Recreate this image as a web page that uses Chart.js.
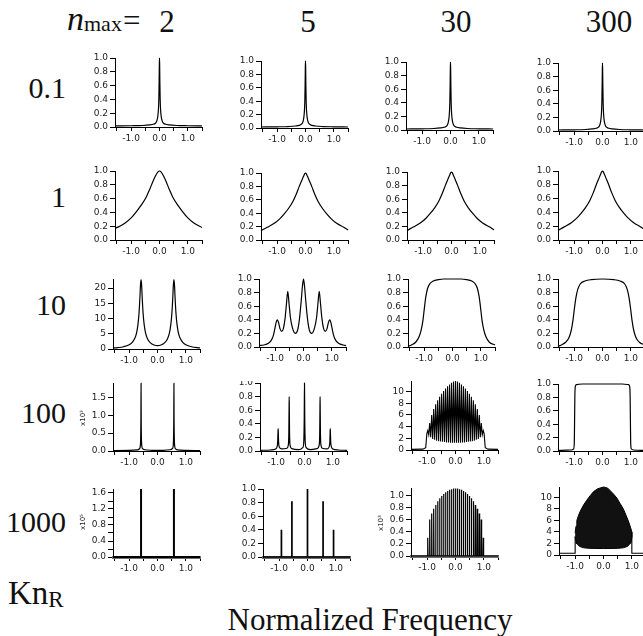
<!DOCTYPE html>
<html>
<head>
<meta charset="utf-8">
<script src="https://cdn.jsdelivr.net/npm/chart.js@4.4.0/dist/chart.umd.min.js"></script>
<style>
html, body { margin: 0; padding: 0; background: #fff; }
body { width: 643px; height: 636px; position: relative; overflow: hidden; }
.panel { position: absolute; }
.panel canvas { display: block; }
.lbl { position: absolute; font-family: "Liberation Serif", "Times New Roman", serif; color: #111; white-space: nowrap; line-height: 1; }
.mult { position: absolute; font-family: "DejaVu Sans", sans-serif; font-size: 7px; color: #222; white-space: nowrap; transform: translate(-50%, -50%) rotate(-90deg); }
</style>
</head>
<body>
<script>
// ---- labels ----
const nmaxValues = ['2', '5', '30', '300'];
const knValues = ['0.1', '1', '10', '100', '1000'];

// ---- tick values / labels ----
const xTicks = [-1.5, -1, -0.5, 0, 0.5, 1, 1.5];
const xTickLabels = ['', '-1.0', '', '0.0', '', '1.0', ''];
const unitTicks = [0, 0.2, 0.4, 0.6, 0.8, 1.0];
const unitTickLabels = ['0.0', '0.2', '0.4', '0.6', '0.8', '1.0'];
const twinTicks = [0, 5, 10, 15, 20];
const twinTickLabels = ['0', '5', '10', '15', '20'];
const kiloTicks = [0, 0.5, 1.0, 1.5];
const kiloTickLabels = ['0.0', '0.5', '1.0', '1.5'];
const combTicks = [0, 2, 4, 6, 8, 10];
const combTickLabels = ['0', '2', '4', '6', '8', '10'];
const lakhTicks = [0, 0.2, 0.4, 0.6, 0.8, 1.0, 1.2, 1.4, 1.6];
const lakhTickLabels = ['0.0', '', '0.4', '', '0.8', '', '1.2', '', '1.6'];

// ---- curves: [normalized frequency, intensity] ----
const peakNarrow = [[-1.57,0.015],[-1.0,0.018],[-0.6,0.022],[-0.35,0.03],[-0.22,0.04],[-0.13,0.06],[-0.085,0.1],[-0.055,0.17],[-0.037,0.26],[-0.024,0.4],[-0.013,0.65],[-0.005,0.92],[0,1.0],[0.005,0.92],[0.013,0.65],[0.024,0.4],[0.037,0.26],[0.055,0.17],[0.085,0.1],[0.13,0.06],[0.22,0.04],[0.35,0.03],[0.6,0.022],[1.0,0.018],[1.5,0.015]];

const broadPeak = [[-1.57,0.17],[-1.4,0.2],[-1.2,0.25],[-1.0,0.32],[-0.8,0.42],[-0.62,0.52],[-0.47,0.62],[-0.34,0.74],[-0.24,0.84],[-0.14,0.93],[-0.06,0.985],[0,1.0],[0.06,0.985],[0.14,0.93],[0.24,0.84],[0.34,0.74],[0.47,0.62],[0.62,0.52],[0.8,0.42],[1.0,0.32],[1.2,0.25],[1.5,0.18]];

const cuspPeak = [[-1.57,0.14],[-1.35,0.19],[-1.1,0.25],[-0.9,0.32],[-0.75,0.39],[-0.6,0.47],[-0.45,0.57],[-0.32,0.69],[-0.22,0.8],[-0.14,0.88],[-0.07,0.95],[-0.025,0.99],[0,1.0],[0.025,0.99],[0.07,0.95],[0.14,0.88],[0.22,0.8],[0.32,0.69],[0.45,0.57],[0.6,0.47],[0.75,0.39],[0.9,0.32],[1.1,0.25],[1.35,0.19],[1.5,0.15]];

const twinPeaks = [[-1.57,0.3],[-1.4,0.45],[-1.2,0.75],[-1.0,1.4],[-0.9,2.1],[-0.8,3.5],[-0.74,5.2],[-0.69,8],[-0.65,12],[-0.62,17],[-0.6,21],[-0.58,22.8],[-0.56,21],[-0.54,17],[-0.51,12],[-0.47,8],[-0.42,5.2],[-0.35,3.3],[-0.25,2.0],[-0.12,1.3],[0,1.1],[0.12,1.3],[0.25,2.0],[0.35,3.3],[0.42,5.2],[0.47,8],[0.51,12],[0.54,17],[0.56,21],[0.58,22.8],[0.6,21],[0.62,17],[0.65,12],[0.69,8],[0.74,5.2],[0.8,3.5],[0.9,2.1],[1.0,1.4],[1.2,0.75],[1.5,0.35]];

const fivePeaks = [[-1.57,0.02],[-1.4,0.03],[-1.25,0.05],[-1.15,0.09],[-1.07,0.16],[-1.01,0.27],[-0.96,0.37],[-0.92,0.4],[-0.88,0.36],[-0.83,0.27],[-0.77,0.23],[-0.71,0.27],[-0.65,0.42],[-0.6,0.64],[-0.555,0.82],[-0.51,0.64],[-0.46,0.43],[-0.39,0.28],[-0.29,0.2],[-0.2,0.26],[-0.14,0.42],[-0.08,0.68],[-0.035,0.9],[0,1.0],[0.035,0.9],[0.08,0.68],[0.14,0.42],[0.2,0.26],[0.29,0.2],[0.39,0.28],[0.46,0.43],[0.51,0.64],[0.555,0.82],[0.6,0.64],[0.65,0.42],[0.71,0.27],[0.77,0.23],[0.83,0.27],[0.88,0.36],[0.92,0.4],[0.96,0.37],[1.01,0.27],[1.07,0.16],[1.15,0.09],[1.25,0.05],[1.4,0.03],[1.5,0.02]];

const plateau30 = [[-1.57,0.01],[-1.45,0.03],[-1.3,0.07],[-1.18,0.15],[-1.1,0.26],[-1.04,0.4],[-0.99,0.58],[-0.94,0.74],[-0.88,0.86],[-0.8,0.93],[-0.68,0.97],[-0.5,0.99],[-0.3,1.0],[0,1.0],[0.3,1.0],[0.5,0.99],[0.68,0.97],[0.8,0.93],[0.88,0.86],[0.94,0.74],[0.99,0.58],[1.04,0.4],[1.1,0.26],[1.18,0.15],[1.3,0.07],[1.5,0.03]];

const plateau300 = [[-1.57,0.01],[-1.45,0.03],[-1.3,0.07],[-1.18,0.14],[-1.1,0.25],[-1.04,0.4],[-0.99,0.57],[-0.94,0.72],[-0.87,0.85],[-0.78,0.93],[-0.62,0.97],[-0.4,0.99],[0,1.0],[0.4,0.99],[0.62,0.97],[0.78,0.93],[0.87,0.85],[0.94,0.72],[0.99,0.57],[1.04,0.4],[1.1,0.25],[1.18,0.14],[1.3,0.07],[1.5,0.03]];

const twinSpikes = [[-1.57,0.01],[-1.0,0.015],[-0.7,0.03],[-0.63,0.07],[-0.6,0.2],[-0.585,0.9],[-0.58,1.89],[-0.575,0.9],[-0.56,0.2],[-0.53,0.07],[-0.45,0.035],[-0.2,0.02],[0,0.018],[0.2,0.02],[0.45,0.035],[0.53,0.07],[0.56,0.2],[0.575,0.9],[0.58,1.89],[0.585,0.9],[0.6,0.2],[0.63,0.07],[0.7,0.03],[1.0,0.015],[1.5,0.01]];

const fiveSpikes = [[-1.57,0.01],[-1.2,0.015],[-1.02,0.03],[-0.97,0.06],[-0.945,0.14],[-0.935,0.28],[-0.93,0.33],[-0.925,0.28],[-0.915,0.14],[-0.89,0.06],[-0.8,0.03],[-0.62,0.04],[-0.575,0.08],[-0.553,0.25],[-0.545,0.6],[-0.54,0.8],[-0.535,0.6],[-0.527,0.25],[-0.505,0.08],[-0.45,0.035],[-0.2,0.02],[-0.06,0.05],[-0.025,0.14],[-0.009,0.5],[0,1.0],[0.009,0.5],[0.025,0.14],[0.06,0.05],[0.2,0.02],[0.45,0.035],[0.515,0.08],[0.537,0.25],[0.545,0.6],[0.55,0.8],[0.555,0.6],[0.563,0.25],[0.585,0.08],[0.63,0.04],[0.8,0.03],[0.87,0.06],[0.895,0.14],[0.905,0.28],[0.91,0.33],[0.915,0.28],[0.925,0.14],[0.95,0.06],[1.0,0.03],[1.2,0.015],[1.5,0.01]];

const flatTop = [[-1.57,0.01],[-1.1,0.015],[-1.02,0.03],[-0.995,0.12],[-0.985,0.45],[-0.975,0.82],[-0.96,0.96],[-0.92,0.99],[-0.7,1.0],[0,1.0],[0.7,1.0],[0.92,0.99],[0.96,0.96],[0.975,0.82],[0.985,0.45],[0.995,0.12],[1.02,0.03],[1.1,0.015],[1.5,0.01]];

// comb of n_max = 30 lines (peak positions, peak heights, valleys between them)
const combX = [-0.98,-0.91,-0.84,-0.77,-0.70,-0.63,-0.56,-0.49,-0.42,-0.35,-0.28,-0.21,-0.14,-0.07,0,0.07,0.14,0.21,0.28,0.35,0.42,0.49,0.56,0.63,0.70,0.77,0.84,0.91,0.98];
const combValleyX = [-0.945,-0.875,-0.805,-0.735,-0.665,-0.595,-0.525,-0.455,-0.385,-0.315,-0.245,-0.175,-0.105,-0.035,0.035,0.105,0.175,0.245,0.315,0.385,0.455,0.525,0.595,0.665,0.735,0.805,0.875,0.945];
const comb100Peak = [3.3,4.6,6.0,7.0,7.8,8.5,9.1,9.6,10.1,10.5,10.9,11.2,11.5,11.7,11.8,11.7,11.5,11.2,10.9,10.5,10.1,9.6,9.1,8.5,7.8,7.0,6.0,4.6,3.3];
const comb100Valley = [2.6,2.2,1.9,1.75,1.6,1.5,1.45,1.4,1.35,1.3,1.3,1.25,1.25,1.25,1.25,1.25,1.25,1.3,1.3,1.35,1.4,1.45,1.5,1.6,1.75,1.9,2.2,2.6];
const comb100Left = [[-1.57,0.1],[-1.15,0.15],[-1.05,0.4],[-1.01,2.8]];
const comb100Right = [[1.01,2.8],[1.05,0.4],[1.15,0.15],[1.5,0.1]];
const comb1000Peak = [0.3,0.6,0.7,0.78,0.84,0.9,0.95,0.99,1.02,1.05,1.07,1.09,1.1,1.11,1.11,1.11,1.1,1.09,1.07,1.05,1.02,0.99,0.95,0.9,0.84,0.78,0.7,0.6,0.3];

// isolated lines at Kn = 1000
const lines2X = [-0.58, 0.58];
const lines2H = [1.7, 1.7];
const lines5X = [-0.92, -0.55, 0, 0.55, 0.92];
const lines5H = [0.4, 0.82, 1.0, 0.82, 0.4];

// n_max = 300, Kn = 1000: envelope of the unresolved band
const bandTop = [[-1.0,3.8],[-0.97,5.0],[-0.94,6.0],[-0.88,6.9],[-0.82,7.6],[-0.7,8.7],[-0.59,9.5],[-0.47,10.3],[-0.35,11.0],[-0.2,11.5],[0,11.8],[0.15,11.6],[0.35,10.6],[0.47,9.9],[0.59,8.9],[0.7,8.0],[0.82,6.6],[0.9,5.6],[0.96,4.7],[1.0,4.0]];
const bandBottom = [[1.0,3.0],[0.97,2.2],[0.94,2.0],[0.85,1.5],[0.7,1.25],[0.5,1.15],[0,1.12],[-0.5,1.15],[-0.7,1.25],[-0.85,1.5],[-0.94,2.0],[-0.97,2.3],[-1.0,3.2]];
const bandBaseLeft = [[-1.57,0.3],[-1.0,0.3],[-1.0,3.2]];
const bandBaseRight = [[1.0,3.0],[1.0,0.3],[1.5,0.3]];

// ---- layout ----
const AXIS_W = 34, PAD_R = 10, PAD_T = 8, XAXIS_H = 22;
const X_MIN = -1.57, X_MAX = 1.5, PLOT_W = 87;
const TICK_FONT = { family: '"DejaVu Sans", sans-serif', size: 9 };

function toPoints(pairs) {
    return pairs.map(p => ({ x: p[0], y: p[1] }));
}

function linePoints(xs, hs, halfWidth) {
    const pts = [{ x: X_MIN, y: 0 }];
    xs.forEach((x, i) => {
        pts.push({ x: x - halfWidth, y: 0 }, { x: x, y: hs[i] }, { x: x + halfWidth, y: 0 });
    });
    pts.push({ x: X_MAX, y: 0 });
    return pts;
}

function combPoints(left, xs, peaks, vxs, valleys, right) {
    const mid = xs.map((x, i) => ({ x: x, y: peaks[i] }))
        .concat(vxs.map((x, i) => ({ x: x, y: valleys[i] })))
        .sort((a, b) => a.x - b.x);
    return toPoints(left).concat(mid, toPoints(right));
}

const smooth = pts => ({ pts: toPoints(pts), smooth: true });

const panels = [
    // Kn = 0.1
    { left: 115, top: 58, bottom: 127, yMax: 1, ticks: unitTicks, labels: unitTickLabels, lines: [smooth(peakNarrow)] },
    { left: 261, top: 61, bottom: 127.7, yMax: 1, ticks: unitTicks, labels: unitTickLabels, lines: [smooth(peakNarrow)] },
    { left: 406, top: 61.7, bottom: 130, yMax: 1, ticks: unitTicks, labels: unitTickLabels, lines: [smooth(peakNarrow)] },
    { left: 558, top: 63.3, bottom: 131.7, yMax: 1, ticks: unitTicks, labels: unitTickLabels, lines: [smooth(peakNarrow)] },
    // Kn = 1
    { left: 115, top: 171, bottom: 240, yMax: 1, ticks: unitTicks, labels: unitTickLabels, lines: [smooth(broadPeak)] },
    { left: 261, top: 173.3, bottom: 240.7, yMax: 1, ticks: unitTicks, labels: unitTickLabels, lines: [smooth(cuspPeak)] },
    { left: 406.7, top: 171.7, bottom: 240, yMax: 1, ticks: unitTicks, labels: unitTickLabels, lines: [smooth(cuspPeak)] },
    { left: 558, top: 171, bottom: 240, yMax: 1, ticks: unitTicks, labels: unitTickLabels, lines: [smooth(cuspPeak)] },
    // Kn = 10
    { left: 113.3, top: 279, bottom: 349, yMax: 23, ticks: twinTicks, labels: twinTickLabels, lines: [smooth(twinPeaks)] },
    { left: 258.5, top: 279.3, bottom: 347.3, yMax: 1, ticks: unitTicks, labels: unitTickLabels, lines: [smooth(fivePeaks)] },
    { left: 407.7, top: 279.3, bottom: 347.3, yMax: 1, ticks: unitTicks, labels: unitTickLabels, lines: [smooth(plateau30)] },
    { left: 557.7, top: 279.3, bottom: 347.3, yMax: 1, ticks: unitTicks, labels: unitTickLabels, lines: [smooth(plateau300)] },
    // Kn = 100
    { left: 113.3, top: 383, bottom: 451, yMax: 1.9, ticks: kiloTicks, labels: kiloTickLabels, lines: [smooth(twinSpikes)] },
    { left: 260, top: 383.3, bottom: 451, yMax: 1, ticks: unitTicks, labels: unitTickLabels, clipTop: 382, lines: [smooth(fiveSpikes)] },
    { left: 410.7, top: 381.2, bottom: 450, yMax: 11.8, ticks: combTicks, labels: combTickLabels,
      lines: [{ pts: combPoints(comb100Left, combX, comb100Peak, combValleyX, comb100Valley, comb100Right), width: 1.1 }] },
    { left: 557.7, top: 384, bottom: 451, yMax: 1, ticks: unitTicks, labels: unitTickLabels, lines: [smooth(flatTop)] },
    // Kn = 1000
    { left: 113.3, top: 489.3, bottom: 557.3, yMax: 1.7, ticks: lakhTicks, labels: lakhTickLabels, heavyBase: true,
      lines: [{ pts: linePoints(lines2X, lines2H, 0), width: 2 }] },
    { left: 262.7, top: 489.3, bottom: 557.3, yMax: 1, ticks: unitTicks, labels: unitTickLabels, heavyBase: true,
      lines: [{ pts: linePoints(lines5X, lines5H, 0), width: 1.7 }] },
    { left: 410.7, top: 487.7, bottom: 555.7, yMax: 1.12, ticks: unitTicks, labels: unitTickLabels, heavyBase: true,
      lines: [{ pts: linePoints(combX, comb1000Peak, 0.012), width: 1.2 }] },
    { left: 559.3, top: 486.6, bottom: 555, yMax: 11.8, ticks: combTicks, labels: combTickLabels,
      lines: [
          { pts: toPoints(bandTop.concat(bandBottom)), fill: 'shape', width: 1 },
          { pts: toPoints(bandBaseLeft), width: 1.1 },
          { pts: toPoints(bandBaseRight), width: 1.1 }
      ] }
];

function makePanel(p) {
    const wrap = document.createElement('div');
    wrap.className = 'panel';
    const canvas = document.createElement('canvas');
    const plotH = Math.round(p.bottom - p.top);
    canvas.width = AXIS_W + PLOT_W + PAD_R;
    canvas.height = PAD_T + plotH + XAXIS_H;
    wrap.appendChild(canvas);
    document.body.appendChild(wrap);

    const chart = new Chart(canvas, {
        type: 'line',
        data: {
            datasets: p.lines.map(l => ({
                data: l.pts,
                borderColor: '#000',
                backgroundColor: '#111',
                borderWidth: l.width || 1.2,
                pointRadius: 0,
                fill: l.fill || false,
                tension: 0,
                cubicInterpolationMode: l.smooth ? 'monotone' : 'default',
                clip: 6
            }))
        },
        options: {
            responsive: false,
            maintainAspectRatio: false,
            animation: false,
            events: [],
            layout: { padding: { left: 0, right: PAD_R, top: PAD_T, bottom: 0 } },
            plugins: { legend: { display: false }, tooltip: { enabled: false } },
            scales: {
                x: {
                    type: 'linear',
                    min: X_MIN,
                    max: X_MAX,
                    afterBuildTicks: s => { s.ticks = xTicks.map(v => ({ value: v })); },
                    afterFit: s => { s.height = XAXIS_H; },
                    ticks: {
                        autoSkip: false, maxRotation: 0, padding: 2,
                        color: '#222', font: TICK_FONT,
                        callback: (v, i) => xTickLabels[i]
                    },
                    grid: { drawOnChartArea: false, drawTicks: true, tickLength: 4, color: '#000' },
                    border: p.heavyBase ? { color: '#6e6e6e', width: 3 } : { color: '#000', width: 1 }
                },
                y: {
                    type: 'linear',
                    min: 0,
                    max: p.yMax,
                    afterBuildTicks: s => { s.ticks = p.ticks.map(v => ({ value: v })); },
                    afterFit: s => { s.width = AXIS_W; },
                    ticks: {
                        autoSkip: false, padding: 2,
                        color: '#222', font: TICK_FONT,
                        callback: (v, i) => p.labels[i]
                    },
                    grid: { drawOnChartArea: false, drawTicks: true, tickLength: 5, color: '#000' },
                    border: { color: '#000', width: 1 }
                }
            }
        }
    });

    // put the plot area exactly where the reference has it
    let ca = chart.chartArea;
    const dh = plotH - (ca.bottom - ca.top);
    const dw = PLOT_W - (ca.right - ca.left);
    if (Math.abs(dh) > 0.5 || Math.abs(dw) > 0.5) {
        chart.resize(canvas.width + dw, canvas.height + dh);
        ca = chart.chartArea;
    }
    const wl = p.left - ca.left, wt = p.top - ca.top;
    wrap.style.left = wl + 'px';
    wrap.style.top = wt + 'px';
    if (p.clipTop) wrap.style.clipPath = 'inset(' + (p.clipTop - wt) + 'px 0 0 0)';
}

function addText(html, x, baseline, size, align, italic) {
    const d = document.createElement('div');
    d.className = 'lbl';
    d.innerHTML = html;
    d.style.fontSize = size + 'px';
    if (italic) d.style.fontStyle = 'italic';
    d.style.top = (baseline - 0.8375 * size) + 'px';
    d.style.left = x + 'px';
    if (align === 'right') d.style.transform = 'translateX(-100%)';
    if (align === 'center') d.style.transform = 'translateX(-50%)';
    document.body.appendChild(d);
}

function addMultiplier(text, x, y) {
    const d = document.createElement('div');
    d.className = 'mult';
    d.textContent = text;
    d.style.left = x + 'px';
    d.style.top = y + 'px';
    document.body.appendChild(d);
}

panels.forEach(makePanel);

// column headers
addText('n', 67, 30, 34, 'left', true);
addText('max', 84, 31, 22, 'left');
addText('=', 123, 31, 31, 'left');
const headerX = [167, 308, 456, 609];
nmaxValues.forEach((v, i) => addText(v, headerX[i], 32, 31, 'center'));

// row headers
const rowBase = [98.3, 206.7, 315, 423.3, 531.7];
knValues.forEach((v, i) => addText(v, 66, rowBase[i], 30, 'right'));
addText('Kn<span style="font-size:23px;position:relative;top:3px">R</span>', 8, 605, 33, 'left');

addMultiplier('x10³', 83, 418);
addMultiplier('x10⁵', 83, 522);
addMultiplier('x10³', 381, 523);

addText('Normalized Frequency', 370, 630, 31, 'center');
</script>
</body>
</html>
